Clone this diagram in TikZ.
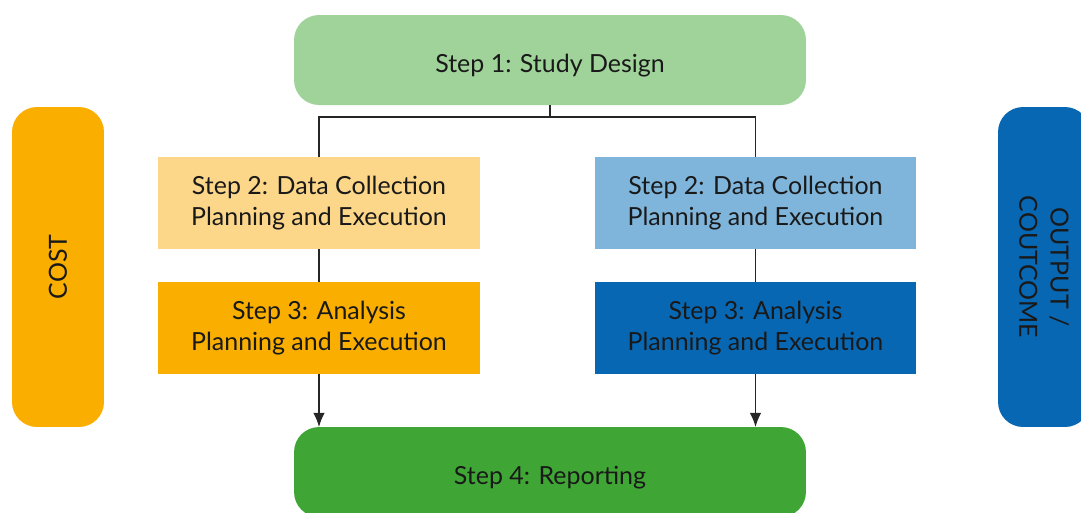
\documentclass[tikz,border=0pt]{standalone}
\usepackage{fontspec}
\setmainfont{Lato}
\usetikzlibrary{calc,arrows.meta}
\definecolor{designgreen}{HTML}{A0D39A}
\definecolor{reportgreen}{HTML}{3FA535}
\definecolor{lightorange}{HTML}{FCD78A}
\definecolor{darkorange}{HTML}{F9AE00}
\definecolor{lightblue}{HTML}{7FB5DB}
\definecolor{darkblue}{HTML}{0867B3}
\tikzset{
  stepbox/.style={rectangle, inner sep=0pt, outer sep=0pt, align=center,
    minimum width=6.44cm, minimum height=1.84cm, text=black!90,
    font=\fontsize{14.2}{17.8}\selectfont},
  roundbox/.style={stepbox, rounded corners=0.5cm,
    minimum width=10.24cm, minimum height=1.8cm,
    text height=17.5pt, text depth=3pt},
  sidebar/.style={stepbox, rounded corners=0.5cm,
    minimum width=6.4cm, minimum height=1.84cm},
  link/.style={line width=0.8pt, black!85}
}
\begin{document}
\begin{tikzpicture}[x=0.02cm, y=-0.02cm]
   \useasboundingbox (0,0) rectangle (1081,512);
   \clip (0,0) rectangle (1081,512);
   % main steps
   \node[roundbox, fill=designgreen] (s1) at (550,60) {Step 1: Study Design};
   \node[stepbox, fill=lightorange] (s2l) at (319,203) {Step 2: Data Collection\\Planning and Execution};
   \node[stepbox, fill=lightblue] (s2r) at (755.5,203) {Step 2: Data Collection\\Planning and Execution};
   \node[stepbox, fill=darkorange] (s3l) at (319,328) {Step 3: Analysis\\Planning and Execution};
   \node[stepbox, fill=darkblue] (s3r) at (755.5,328) {Step 3: Analysis\\Planning and Execution};
   \node[roundbox, fill=reportgreen] (s4) at (550,472) {Step 4: Reporting};
   % side bars
   \node[sidebar, fill=darkorange, rotate=90] (cost) at (58,267) {COST};
   \node[sidebar, fill=darkblue, rotate=-90] (out) at (1044,267) {OUTPUT /\\COUTCOME};
   % connectors
   \coordinate (split) at ($(s1.south)+(0,12)$);
   \draw[link] (s1.south) -- (split) -| (s2l.north);
   \draw[link] (split) -| (s2r.north);
   \draw[link] (s2l) -- (s3l);
   \draw[link] (s2r) -- (s3r);
   \draw[link, -{Latex[length=8pt,width=6.5pt]}] (s3l.south) -- (s3l.south |- s4.north);
   \draw[link, -{Latex[length=8pt,width=6.5pt]}] (s3r.south) -- (s3r.south |- s4.north);
\end{tikzpicture}
\end{document}
